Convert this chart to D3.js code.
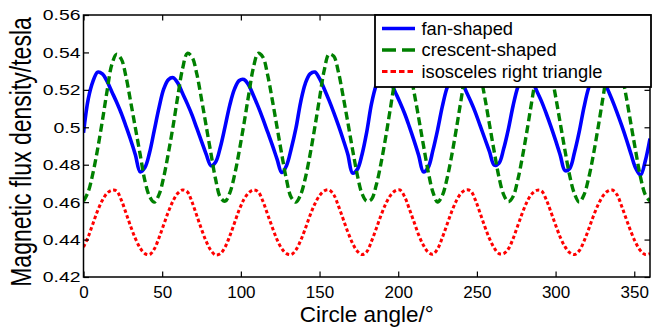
<!DOCTYPE html>
<html>
<head>
<meta charset="utf-8">
<script src="https://cdn.jsdelivr.net/npm/d3@7"></script>
<style>
  html, body { margin: 0; padding: 0; background: #fff; }
  svg { display: block; font-family: "Liberation Sans", Arial, Helvetica, sans-serif; }
</style>
</head>
<body>
<svg id="chart" width="653" height="332"></svg>
<script>
// Sample angles (degrees) shared by all three rotor shapes
const angles = d3.range(0, 361, 3);

// Magnetic flux density (tesla) for each shape, one value per angle
const fanShaped = [
  0.497, 0.515, 0.5245, 0.5295, 0.5285, 0.5245, 0.519, 0.5135, 0.5075, 0.5005, 0.4932, 0.4852, 0.4762, 0.4785, 0.4865,
  0.4985, 0.5105, 0.5205, 0.5255, 0.5265, 0.5235, 0.518, 0.5125, 0.5065, 0.4995, 0.4925, 0.4855, 0.4795, 0.4815, 0.4895,
  0.5005, 0.512, 0.5205, 0.525, 0.5255, 0.5225, 0.517, 0.511, 0.5045, 0.4975, 0.4905, 0.483, 0.4758, 0.4795, 0.4885,
  0.4995, 0.5135, 0.5235, 0.5285, 0.5295, 0.526, 0.5205, 0.5145, 0.508, 0.501, 0.4935, 0.4855, 0.4755, 0.4775, 0.4855,
  0.4975, 0.5125, 0.5225, 0.528, 0.528, 0.5245, 0.519, 0.5135, 0.5075, 0.5005, 0.493, 0.485, 0.4762, 0.4785, 0.4875,
  0.4985, 0.511, 0.521, 0.5265, 0.528, 0.525, 0.5195, 0.514, 0.508, 0.501, 0.494, 0.487, 0.4798, 0.4808, 0.4885,
  0.499, 0.5115, 0.5215, 0.527, 0.528, 0.525, 0.5195, 0.514, 0.5075, 0.5005, 0.493, 0.485, 0.4768, 0.478, 0.4865,
  0.4975, 0.5105, 0.521, 0.527, 0.5285, 0.5255, 0.5205, 0.5145, 0.508, 0.501, 0.4935, 0.4855, 0.478, 0.4745, 0.482, 0.494
];

const crescentShaped = [
  0.4605, 0.4655, 0.4755, 0.4885, 0.5035, 0.5195, 0.5335, 0.5390, 0.5365, 0.5270, 0.5135, 0.4995, 0.4855, 0.4715, 0.4630,
  0.4600, 0.4640, 0.4735, 0.4865, 0.5010, 0.5170, 0.5315, 0.5395, 0.5375, 0.5285, 0.5150, 0.5005, 0.4860, 0.4720, 0.4625,
  0.4605, 0.4650, 0.4745, 0.4875, 0.5020, 0.5175, 0.5320, 0.5395, 0.5375, 0.5280, 0.5145, 0.5000, 0.4855, 0.4720, 0.4625,
  0.4600, 0.4640, 0.4730, 0.4855, 0.5000, 0.5155, 0.5305, 0.5390, 0.5380, 0.5295, 0.5165, 0.5025, 0.4880, 0.4745, 0.4645,
  0.4605, 0.4615, 0.4690, 0.4805, 0.4945, 0.5100, 0.5255, 0.5370, 0.5385, 0.5315, 0.5190, 0.5050, 0.4905, 0.4765, 0.4655,
  0.4600, 0.4635, 0.4725, 0.4850, 0.4995, 0.5150, 0.5300, 0.5390, 0.5380, 0.5290, 0.5160, 0.5015, 0.4870, 0.4735, 0.4640,
  0.4602, 0.4630, 0.4720, 0.4845, 0.4990, 0.5145, 0.5295, 0.5388, 0.5382, 0.5295, 0.5165, 0.5020, 0.4875, 0.4740, 0.4645,
  0.4600, 0.4638, 0.4728, 0.4852, 0.4998, 0.5152, 0.5302, 0.5392, 0.5378, 0.5288, 0.5158, 0.5012, 0.4868, 0.4732, 0.4640, 0.4605
];

const isoscelesTriangle = [
  0.4360, 0.4415, 0.4485, 0.4555, 0.4610, 0.4648, 0.4664, 0.4660, 0.4612, 0.4542, 0.4470, 0.4405, 0.4355, 0.4325, 0.4320,
  0.4350, 0.4410, 0.4480, 0.4550, 0.4608, 0.4648, 0.4665, 0.4655, 0.4600, 0.4528, 0.4455, 0.4390, 0.4342, 0.4318, 0.4325,
  0.4360, 0.4420, 0.4490, 0.4560, 0.4615, 0.4650, 0.4665, 0.4655, 0.4605, 0.4535, 0.4465, 0.4400, 0.4352, 0.4325, 0.4320,
  0.4345, 0.4395, 0.4460, 0.4530, 0.4590, 0.4635, 0.4660, 0.4665, 0.4640, 0.4580, 0.4510, 0.4440, 0.4380, 0.4338, 0.4320,
  0.4335, 0.4390, 0.4458, 0.4528, 0.4590, 0.4635, 0.4660, 0.4665, 0.4630, 0.4565, 0.4495, 0.4425, 0.4370, 0.4333, 0.4322,
  0.4350, 0.4410, 0.4480, 0.4550, 0.4608, 0.4648, 0.4665, 0.4660, 0.4612, 0.4542, 0.4470, 0.4405, 0.4355, 0.4325, 0.4325,
  0.4350, 0.4405, 0.4475, 0.4545, 0.4605, 0.4645, 0.4663, 0.4660, 0.4615, 0.4548, 0.4478, 0.4412, 0.4362, 0.4330, 0.4320,
  0.4340, 0.4390, 0.4455, 0.4525, 0.4585, 0.4632, 0.4658, 0.4665, 0.4640, 0.4578, 0.4508, 0.4440, 0.4382, 0.4340, 0.4320, 0.4325
];

const seriesNames = ["fan-shaped", "crescent-shaped", "isosceles right triangle"];
const seriesColors = ["#0000ff", "#008000", "#ff0000"];

const xTicks = [0, 50, 100, 150, 200, 250, 300, 350];
const yTicks = [0.42, 0.44, 0.46, 0.48, 0.50, 0.52, 0.54, 0.56];
const yTickLabels = ["0.42", "0.44", "0.46", "0.48", "0.5", "0.52", "0.54", "0.56"];

const xTitle = "Circle angle/\u00b0";
const yTitle = "Magnetic flux density/tesla";

// ---- layout ----
const plot = { left: 83.5, top: 15, right: 650, bottom: 277 };
const svg = d3.select("#chart");

const x = d3.scaleLinear().domain([0, 360]).range([plot.left, plot.right]);
const y = d3.scaleLinear().domain([0.42, 0.56]).range([plot.bottom, plot.top]);

const series = [
  { name: seriesNames[0], values: fanShaped, color: seriesColors[0], width: 3.6, dash: null, legendDash: null },
  { name: seriesNames[1], values: crescentShaped, color: seriesColors[1], width: 3.4, dash: "8,4", legendDash: "14,6" },
  { name: seriesNames[2], values: isoscelesTriangle, color: seriesColors[2], width: 3, dash: "3.5,2.5", legendDash: "5.5,3" }
];

svg.append("defs").append("clipPath").attr("id", "plot-clip")
  .append("rect")
  .attr("x", plot.left).attr("y", plot.top)
  .attr("width", plot.right - plot.left).attr("height", plot.bottom - plot.top);

// ---- curves ----
const line = d3.line()
  .x((d, i) => x(angles[i]))
  .y(d => y(d))
  .curve(d3.curveCatmullRom.alpha(0.5));

const lines = svg.append("g").attr("clip-path", "url(#plot-clip)");
series.forEach(s => {
  lines.append("path")
    .datum(s.values)
    .attr("fill", "none")
    .attr("stroke", s.color)
    .attr("stroke-width", s.width)
    .attr("stroke-dasharray", s.dash)
    .attr("stroke-linejoin", "round")
    .attr("d", line);
});

// ---- axes (ticks point inward on all four sides) ----
const tickLen = 5.5;
const axisStyle = g => {
  g.select(".domain").remove();
  g.selectAll(".tick line").attr("stroke", "#000").attr("stroke-width", 1.2);
};

const xAxis = svg.append("g")
  .attr("transform", `translate(0,${plot.bottom})`)
  .call(d3.axisBottom(x).tickValues(xTicks).tickSize(-tickLen).tickPadding(9).tickFormat(d3.format("d")))
  .call(axisStyle);
xAxis.selectAll("text").attr("fill", "#000").style("font-size", "17px");

svg.append("g")
  .attr("transform", `translate(0,${plot.top})`)
  .call(d3.axisTop(x).tickValues(xTicks).tickSize(-tickLen).tickFormat(""))
  .call(axisStyle);

const yLabelStretch = 1.25;
const yAxis = svg.append("g")
  .attr("transform", `translate(${plot.left},0)`)
  .call(d3.axisLeft(y).tickValues(yTicks).tickSize(-tickLen).tickPadding(3)
    .tickFormat((d, i) => yTickLabels[i]))
  .call(axisStyle);
yAxis.selectAll("text")
  .attr("fill", "#000")
  .style("font-size", "15.5px")
  .attr("x", -3 / yLabelStretch)
  .attr("transform", `scale(${yLabelStretch},1)`);

svg.append("g")
  .attr("transform", `translate(${plot.right},0)`)
  .call(d3.axisRight(y).tickValues(yTicks).tickSize(-tickLen).tickFormat(""))
  .call(axisStyle);

// plot frame
svg.append("rect")
  .attr("x", plot.left).attr("y", plot.top)
  .attr("width", plot.right - plot.left).attr("height", plot.bottom - plot.top)
  .attr("fill", "none").attr("stroke", "#000").attr("stroke-width", 1.5);

// ---- axis titles ----
svg.append("text")
  .attr("x", (plot.left + plot.right) / 2).attr("y", 322)
  .attr("text-anchor", "middle")
  .style("font-size", "22.5px")
  .attr("fill", "#000")
  .text(xTitle);

svg.append("text")
  .attr("transform", `translate(31,152) scale(${yLabelStretch},1) rotate(-90)`)
  .attr("text-anchor", "middle")
  .style("font-size", "23px")
  .attr("fill", "#000")
  .text(yTitle);

// ---- legend ----
const legend = { x: 375, y: 15, w: 276, h: 72 };
const lg = svg.append("g");
lg.append("rect")
  .attr("x", legend.x).attr("y", legend.y)
  .attr("width", legend.w).attr("height", legend.h)
  .attr("fill", "#fff").attr("stroke", "#000").attr("stroke-width", 1.8);

const rowY = [28.5, 50, 71.5];
series.forEach((s, i) => {
  lg.append("line")
    .attr("x1", 382).attr("x2", 415)
    .attr("y1", rowY[i]).attr("y2", rowY[i])
    .attr("stroke", s.color)
    .attr("stroke-width", s.width)
    .attr("stroke-dasharray", s.legendDash);
  lg.append("text")
    .attr("x", 421.5).attr("y", rowY[i] + 6.3)
    .style("font-size", "18.3px")
    .attr("fill", "#000")
    .text(s.name);
});
</script>
</body>
</html>
